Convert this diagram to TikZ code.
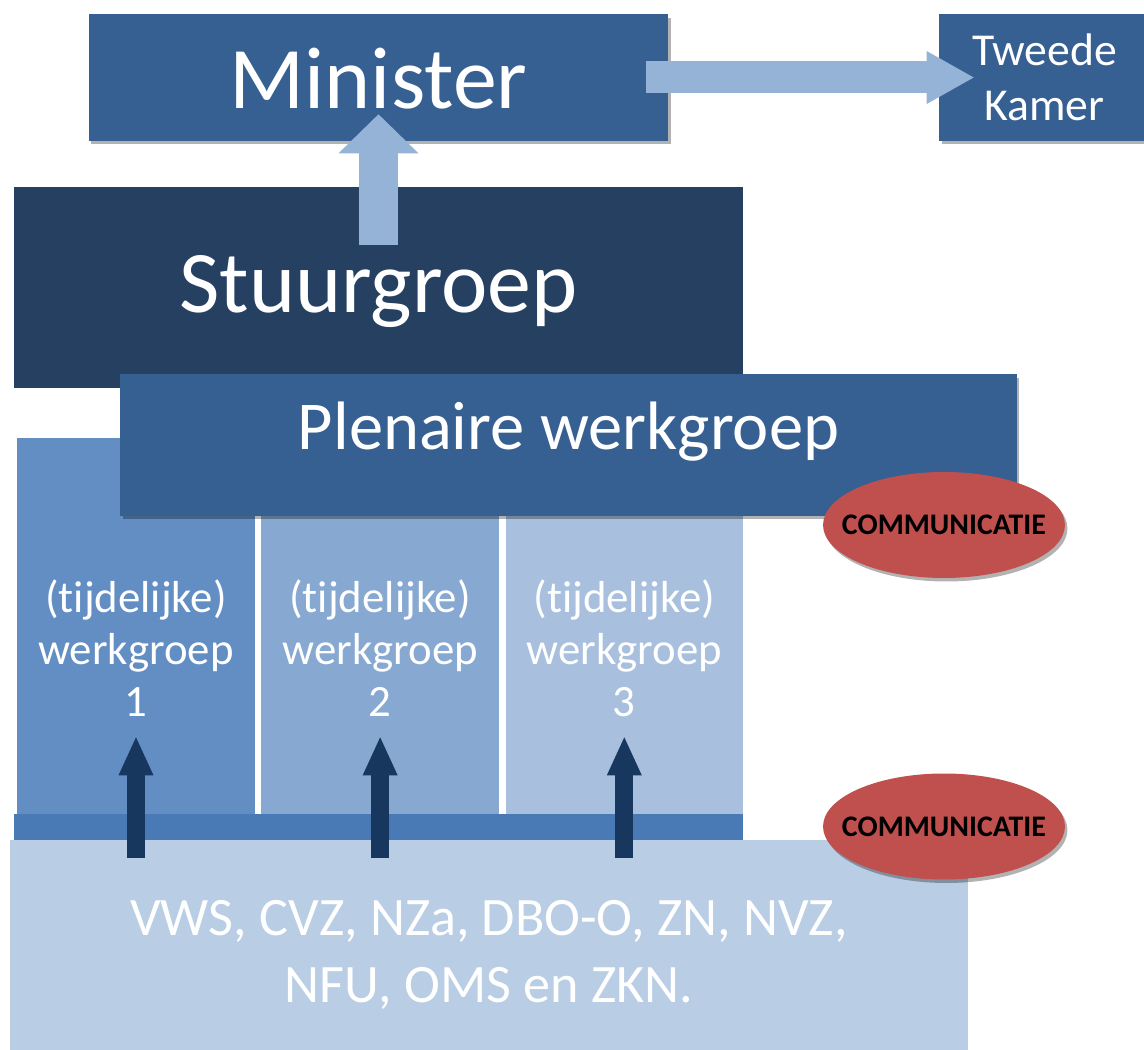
\documentclass[tikz,border=0pt]{standalone}
\usepackage{fontspec}
\setmainfont{Carlito}[Ligatures={NoCommon}]
\usepackage{tikz}
\usetikzlibrary{
  arrows.meta,
  positioning,
  calc,
  shapes.geometric,
  shadows
}
\definecolor{MinisterBlue}{RGB}{55,96,146}
\definecolor{SteerNavy}{RGB}{37,64,97}
\definecolor{GroupOne}{RGB}{98,142,196}
\definecolor{GroupTwo}{RGB}{134,168,209}
\definecolor{GroupThree}{RGB}{168,192,222}
\definecolor{BarBlue}{RGB}{74,122,181}
\definecolor{PartyBlue}{RGB}{185,205,229}
\definecolor{ArrowLight}{RGB}{149,179,215}
\definecolor{ArrowDark}{RGB}{23,55,94}
\definecolor{CommRed}{RGB}{192,80,77}
\tikzset{
  softshadow/.style={drop shadow={shadow xshift=0.05cm,shadow yshift=-0.07cm,fill=black,opacity=0.3}},
  bluebox/.style={fill=MinisterBlue,text=white,inner sep=0pt,softshadow},
  navybox/.style={fill=SteerNavy,text=white,inner sep=0pt},
  groupbox/.style={minimum width=4.75cm,minimum height=7.54cm,inner sep=0pt},
  grouplabel/.style={text=white,align=center,inner sep=0pt,font=\fontsize{25.5}{29.5}\selectfont},
  partylabel/.style={text=white,align=center,inner sep=0pt,font=\fontsize{30.8}{38.5}\selectfont},
  commnode/.style={ellipse,fill=CommRed,minimum width=4.84cm,minimum height=2.12cm,inner sep=0pt,text height=0.4cm,text depth=0pt,font=\bfseries\fontsize{17}{20}\selectfont,softshadow},
  uparrow/.style={draw=ArrowLight,line width=0.8cm,-{Triangle[length=0.78cm,width=1.6cm,line width=0pt]}},
  sidearrow/.style={draw=ArrowLight,line width=0.64cm,-{Triangle[length=0.94cm,width=1.06cm,line width=0pt]}},
  darkarrow/.style={draw=ArrowDark,line width=0.36cm,-{Triangle[length=0.76cm,width=0.7cm,line width=0pt]}}
}

\begin{document}
\begin{tikzpicture}[x=0.02cm,y=-0.02cm,node distance=0.12cm]
\useasboundingbox (0,0) rectangle (1144,1050);

% Top row.
\node[bluebox,minimum width=11.6cm,minimum height=2.54cm,text height=1.26cm,text depth=0pt,font=\fontsize{50}{60}\selectfont] (minister) at (378.5,77.5) {Minister};
\node[bluebox,minimum width=4.22cm,minimum height=2.54cm,align=center,font=\fontsize{26}{31.2}\selectfont] (kamer) at (1044.5,77.5) {Tweede\\Kamer};

% Steering group, working groups and plenary group.
\node[navybox,minimum width=14.6cm,minimum height=4.02cm,text height=1.02cm,text depth=0pt,font=\fontsize{50}{60}\selectfont] (stuur) at (378.5,287.5) {Stuurgroep};
\node[groupbox,fill=GroupOne] (wg1) at (136,626.5) {};
\node[groupbox,fill=GroupTwo,right=of wg1] (wg2) {};
\node[groupbox,fill=GroupThree,right=of wg2] (wg3) {};
\foreach \i in {1,2,3}
  \node[grouplabel] (wgt\i) at ($(wg\i.center)+(0,21.5)$) {(tijdelijke)\\werkgroep\\\i};
\node[bluebox,minimum width=17.94cm,minimum height=2.84cm,text height=0.2cm,text depth=0pt,font=\fontsize{39}{47}\selectfont] (plen) at (568.5,445) {Plenaire werkgroep};

% Parties at the bottom.
\node[fill=BarBlue,minimum width=14.58cm,minimum height=0.54cm,inner sep=0pt] (bar) at (378.5,827.5) {};
\node[fill=PartyBlue,minimum width=19.16cm,minimum height=4.2cm,inner sep=0pt] (org) at (489,945) {};
\node[partylabel] (orgt) at ($(org.center)+(0,10)$) {VWS, CVZ, NZa, DBO-O, ZN, NVZ,\\NFU, OMS en ZKN.};

\node[commnode] (comm1) at (944,525) {\makebox[0pt]{COMMUNICATIE}};
\node[commnode] (comm2) at (944,826.5) {\makebox[0pt]{COMMUNICATIE}};

% Reporting lines.
\draw[uparrow] ($(stuur.north)+(0,58)$) -- ($(minister.south)+(0,-27)$);
\draw[sidearrow] ($(minister.east)+(-23,0)$) -- ($(kamer.west)+(35,0)$);
\foreach \i in {1,2,3}
  \draw[darkarrow] ($(wg\i.south |- org.north)+(0,18)$) -- ($(wg\i.south)+(0,-78)$);
\end{tikzpicture}
\end{document}
